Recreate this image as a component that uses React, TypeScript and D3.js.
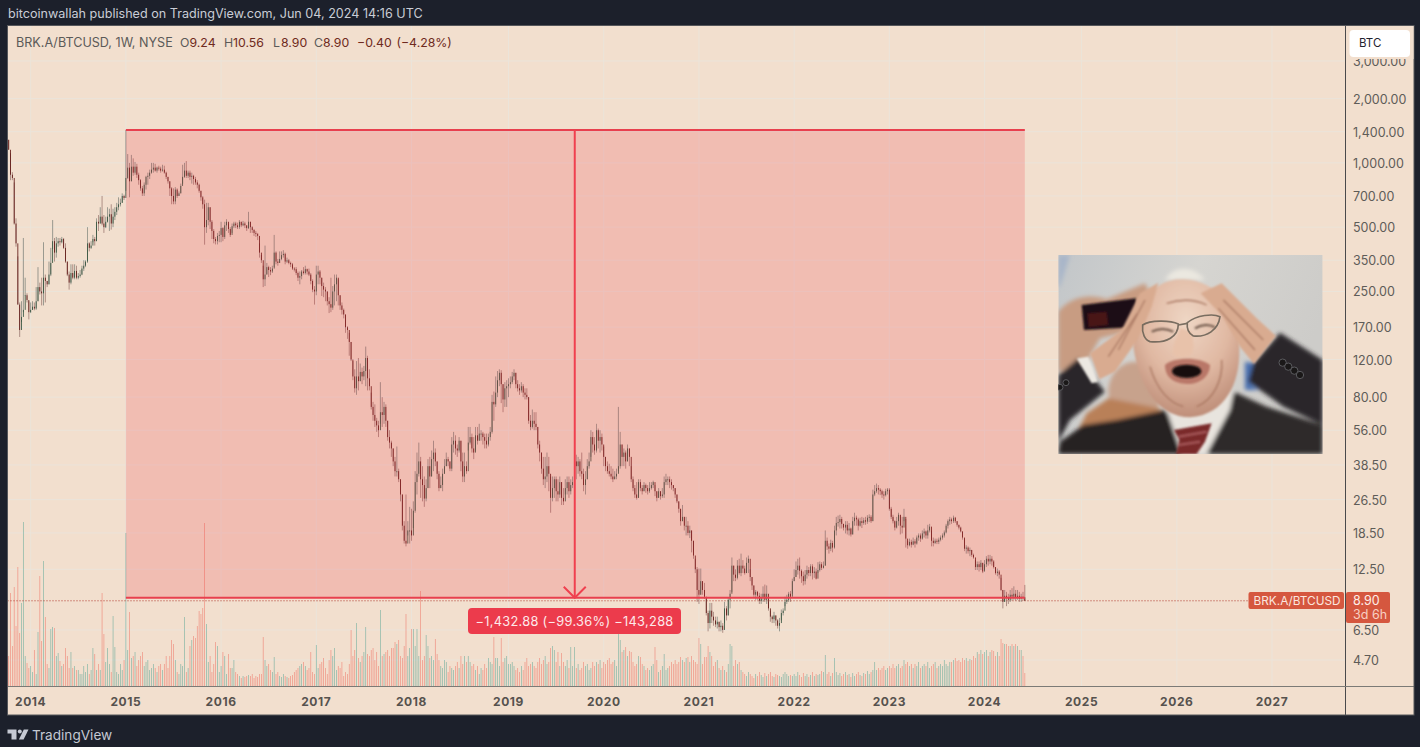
import * as React from 'react';
import { useEffect, useRef } from 'react';
import * as d3 from 'd3';

// weekly bars: [close, high, low, volume]. open = previous close
type Bar = [number, number, number, number];

const bars2013: Bar[] = [
  [1152,1283,1152,30],[880,1110,830,93],[850,905,830,40],[520,810,514,99],[420,550,405,60],[217,365,217,119],
  [165,222,153,53],[190,225,180,83],[205,445,200,164],[240,290,238,30],[228,245,222,23],[200,225,185,18],
];
const bars2014: Bar[] = [
  [205,222,198,20],[212,225,205,14],[208,222,204,36],[225,262,205,12],[262,325,225,54],[250,275,242,110],[245,290,215,45],[290,425,215,125],
  [280,300,222,69],[270,280,262,22],[300,345,270,18],[340,400,295,57],[430,540,395,59],[380,445,345,58],[420,450,360,30],[430,445,405,33],
  [425,445,410,25],[440,450,420,20],[400,445,395,22],[345,420,340,38],[300,345,295,30],[275,310,255,18],[305,335,270,34],[290,335,285,18],
  [312,335,285,20],[290,330,285,16],[295,305,285,16],[300,315,290,12],[320,330,298,12],[330,350,312,20],[345,350,325,14],[420,500,340,22],
  [400,425,385,12],[410,430,395,16],[440,460,425,38],[430,450,410,32],[530,550,430,16],[520,570,480,22],[560,620,520,16],[520,700,510,93],
  [500,570,470,52],[530,560,495,24],[560,620,525,38],[575,610,480,22],[520,640,487,14],[560,610,500,70],[590,620,540,39],[620,650,570,14],
  [640,690,600,12],[650,680,625,22],[700,720,650,16],[685,710,670,26],
];
const bars2015: Bar[] = [
  [850,1426,740,153],[950,1100,840,36],[820,1000,690,74],[960,1090,820,28],[900,1050,870,30],[960,1010,880,34],[880,990,850,20],[830,900,790,26],
  [760,840,740,30],[720,780,700,34],[790,810,700,20],[860,870,750,24],[870,900,790,26],[900,930,840,16],[930,1000,890,18],[950,1000,900,22],
  [920,990,910,18],[950,960,900,14],[940,970,920,20],[920,960,900,22],[930,980,910,16],[900,970,890,22],[860,910,840,30],[820,860,800,18],
  [760,820,700,30],[700,770,640,46],[660,760,640,42],[750,770,640,26],[700,760,685,14],[720,735,700,12],[780,800,720,22],[860,980,800,20],
  [920,1000,850,69],[870,1020,850,14],[900,920,850,18],[860,920,830,40],[870,900,800,46],[840,880,790,50],[810,860,790,48],[790,830,760,60],
  [740,800,725,75],[690,740,665,72],[640,700,610,78],[500,673,414,163],[540,650,470,62],[620,650,510,24],[530,620,490,30],[480,540,440,14],
  [440,490,420,22],[430,450,415,44],[455,470,415,40],[460,480,425,14],
];
const bars2016: Bar[] = [
  [495,530,425,20],[450,500,430,34],[510,530,440,30],[530,545,480,12],[490,520,470,32],[460,500,450,18],[505,520,470,18],[520,530,495,26],
  [510,530,495,14],[500,525,490,12],[530,540,490,10],[510,530,500,8],[520,535,505,10],[510,530,495,9],[495,510,480,10],[530,590,490,11],
  [500,530,470,10],[485,505,470,12],[470,490,455,8],[465,480,450,10],[455,470,435,9],[380,420,360,12],[350,370,340,12],[285,330,262,49],
  [300,410,265,26],[325,340,300,20],[315,330,292,22],[310,325,298,16],[320,330,305,14],[380,460,325,29],[345,385,335,12],[340,355,330,14],
  [355,385,340,10],[370,385,350,9],[375,390,360,12],[345,380,335,10],[350,360,340,9],[340,355,335,8],[335,345,325,10],[320,340,315,11],
  [318,325,310,14],[305,325,298,16],[290,310,280,18],[295,310,270,20],[310,315,285,22],[305,325,300,24],[318,330,300,20],[310,320,300,16],
  [300,320,295,18],[280,305,270,34],[255,285,248,14],[250,265,217,12],
];
const bars2017: Bar[] = [
  [300,330,240,41],[310,330,270,18],[290,315,270,22],[265,290,238,24],[255,275,235,28],[250,262,225,18],[225,250,215,12],[218,235,198,26],
  [210,290,200,36],[250,265,205,30],[270,300,215,38],[290,300,225,16],[240,285,215,20],[215,240,205,18],[205,222,195,24],[195,208,187,10],
  [170,195,160,14],[165,172,150,12],[145,160,125,22],[120,145,118,56],[100,118,96,30],[88,108,84,36],[100,118,82,63],[95,122,86,28],
  [105,115,95,24],[100,110,92,30],[106,112,96,34],[122,138,90,59],[98,125,86,32],[90,108,86,30],[72,84,70,36],[66,76,62,38],
  [62,74,58,26],[59,64,55,34],[56,62,52,20],[68,94,60,76],[66,80,58,30],[72,76,60,32],[62,74,58,34],[52,62,50,36],
  [49,56,46,30],[46,50,42,38],[40,46,38,38],[36,42,34,44],[36,47,34,42],[33,37,32,46],[28,33,26,30],[20,28,19,28],
  [17,21,16.5,40],[16.5,28,16,72],[19,21,18,30],[19,24.5,16.5,38],
];
const bars2018: Bar[] = [
  [18,24,17,57],[23.5,26,19.5,57],[32,36,23,40],[35,44,28,57],[40,49,34,30],[33,42,27,95],[31,38,26,26],[26.8,34,24.5,30],
  [30,33,26,51],[38,41,30,40],[34,42,30,28],[41,45,34,30],[44,50,36,26],[40,46,38,47],[35,40,33,32],[30,36,29,26],
  [31,34,30,20],[35,37,29,18],[38,41,35,26],[41,44,38,24],[40,42,38,14],[37,40,36,20],[48,52,36,18],[50,55,44,16],
  [46,53,43,20],[45,48,42,24],[50,52,44,18],[40,50,36,30],[34,44,32,22],[38,44,32,30],[36,40,35,24],[49,58,45,30],
  [52,58,48,24],[46,54,44,20],[44,52,41,22],[53,58,45,16],[50,58,48,20],[54,60,50,12],[54,56,50,18],[52,55,48,16],
  [50,54,46,22],[48,54,46,18],[52,54,47,28],[55,58,50,24],[76,82,54,22],[74,85,62,49],[84,100,72,28],[96,106,80,28],
  [104,108,90,20],[92,107,75,48],[78,92,68,24],[88,94,72,28],[90,96,72,30],
];
const bars2019: Bar[] = [
  [92,98,80,22],[94,100,88,22],[100,105,92,24],[104,108,96,20],[92,104,88,16],[88,96,85,18],[86,92,82,14],[90,94,84,20],
  [84,92,80,16],[82,88,78,24],[80,88,78,28],[62,80,60,20],[58,66,56,22],[62,70,57,24],[60,68,56,20],[58,68,56,18],
  [48,58,46,24],[44,50,40,28],[37,44,35,22],[33,42,31,26],[34,42,30,30],[38,44,32,22],[35,42,29,24],[27,34,23,38],
  [30,34,26,40],[33,34,27,36],[29,34,26,24],[28,33,26,34],[32,34,27,20],[27,32,25,33],[26,30,25,24],[30,33,28,20],
  [32,34,28,26],[29,34,27,18],[31,33,28,39],[32,34,30,20],[40,44,32,39],[38,43,33,18],[40,42,35,22],[36,41,34,16],
  [35,44,33,18],[31,37,29,24],[33,36,28,20],[38,41,33,22],[40,44,37,16],[52,56,42,18],[48,55,44,24],[45,52,43,20],
  [56,60,44,24],[50,57,46,22],[52,56,44,26],[48,54,45,18],
];
const bars2020: Bar[] = [
  [42,47,38,24],[38,42,36,22],[36,40,35,26],[35,39,34,28],[34,38,33,22],[33,37,32,24],[34,36,33,26],[35,37,33,20],
  [38,72,36,73],[48,55,37,46],[42,48,38,34],[44,46,38,36],[40,45,37,39],[46,48,40,30],[42,46,38,35],[33,38,32,34],
  [30,34,29,24],[28,31,27,20],[27,32,26.5,22],[32,33,27,30],[30,33,29,29],[29,31,28,22],[31,32,29,20],[30,31.5,28.5,16],
  [29,31,28,18],[30,32,28.5,16],[31,32,29.5,20],[32,32.5,30,22],[29,31,27.5,39],[27,29,26,26],[29,30,27,14],[27.5,29,26.5,16],
  [28,30,27,20],[32,34,27,32],[33,35,31,16],[33,34,31,18],[32,34,30,20],[31,33,29.5,24],[30,31,29,22],[28,30,27,26],
  [26,28,25.5,22],[24,26,23,24],[21,24,20,29],[22,25,21,26],[20,22,19,24],[20,22,18,28],[18.5,21,18,29],[19,20,17.5,24],
  [17,19,15,30],[14.5,17,14,26],[12.5,14,12,24],[10,12.8,8.8,22],
];
const bars2021: Bar[] = [
  [9.5,12.6,8.6,48],[11,12.6,9.5,42],[10,11,9.5,22],[9.3,10.8,9.1,29],[7.8,9.2,7.6,29],[7,8,6.4,40],[8,8.7,6.6,34],[7.5,8.7,7,30],
  [7.2,7.9,6.8,20],[6.9,7.5,6.7,24],[7.1,7.5,6.6,26],[6.7,7.1,6.4,18],[6.8,7.2,6.4,16],[6.5,7,6.3,20],[8.2,8.8,7,16],[7.6,8.4,7.2,14],
  [9,9.2,7.6,22],[9.6,10,8.2,42],[13,14.2,9.8,40],[11.8,13,11,20],[11.4,12.5,11,26],[13,13.8,11.2,22],[12,14,11.8,24],[13,14.8,11.6,16],
  [12.6,13.8,12,14],[12,13,11.8,12],[13.4,14.2,12,10],[14,14.5,12,14],[11.5,12.5,11,12],[10.5,11.5,10,10],[9.5,10.5,9.3,8],[9.8,10,9,12],
  [9.4,9.9,9,10],[8.9,9.7,8.6,14],[9.2,9.6,8.6,11],[9.6,10.4,8.8,9],[9,10.6,8.8,13],[9.6,10.5,8.6,10],[8.2,8.8,8,12],[7.5,8,7.1,14],
  [7.3,7.6,7,10],[7.6,7.9,7,9],[7.2,7.6,6.8,12],[6.8,7.3,6.6,11],[7,7.4,6.4,10],[7.8,8.1,7.2,9],[8,8.2,7.6,12],[8.8,9.3,8.4,14],
  [9,9.5,8.6,12],[9.6,9.8,8.8,10],[9.3,9.9,8.8,11],[11,11.3,9.6,10],
];
const bars2022: Bar[] = [
  [11.5,12.5,11,12],[12.4,13.6,11.5,10],[13,14,11.8,14],[12.3,14.2,11.3,11],[11.6,12.5,10.8,9],[11,12.2,10.5,13],[11.8,12.4,10.6,10],[12.4,13,11.3,12],
  [12,12.8,11.6,9],[12.9,13.2,11.6,11],[12,13.2,11.2,14],[12.2,12.8,11.4,10],[11.3,12.6,11.2,12],[12.4,13.5,12,11],[13.2,13.6,12.2,12],[12.7,13.5,12.4,15],
  [13,13.6,12.6,14],[17,19,13,31],[16,17.6,15.4,12],[15.6,16.5,14.8,14],[16.6,17.2,15.2,10],[15.8,17,15,13],[19,20,15.6,28],[20.6,22,18,14],
  [20.8,22.3,19.8,11],[21.5,22.5,19.4,13],[20.4,22,19.4,10],[19.6,20.4,19,12],[20.2,21,18.4,14],[19,21,18.2,11],[19.4,20.6,18,12],[18.2,19.6,17.8,9],
  [21,22,18.2,13],[21.8,23,20,10],[21.4,22.3,20,12],[20,21.8,19,14],[21,21.8,19.8,11],[20.6,22,19.5,10],[21.2,21.8,20.2,13],[20.9,22,20.2,12],
  [21.8,22.4,20.4,15],[22,22.6,20.8,12],[21,22.4,20.6,14],[28,29.5,21,16],[29,31,27.5,24],[30,31.5,28.5,16],[29.5,31,28,18],[29,30,27.8,16],
  [28,29.5,27,18],[27.8,29,26.5,20],[29,29.8,27.4,16],[29.5,30,28,18],
];
const bars2023: Bar[] = [
  [24,30,23.5,20],[22,24.5,21.5,18],[21,22.5,20.5,22],[19.6,21.2,19,18],[21,22,19.4,20],[22.5,23,20,22],[20,22.4,18.2,18],[19.6,22,18.4,20],
  [22,24,21,26],[17.4,21.5,15.8,22],[16.2,17,15.6,24],[16.8,17.4,16,20],[16.3,17.2,15.8,22],[16.9,17.6,16.2,18],[16.5,17.3,15.8,22],[17.6,18,16.3,20],
  [18,18.4,17,24],[17.4,18.4,16.8,18],[18.4,19,17.2,20],[18.8,19.4,17.6,22],[18,19,17.4,20],[19,20.2,17.4,24],[19.8,20.4,18.6,18],[17,19,16,20],
  [16.6,17.6,16,22],[17,17.4,16.4,24],[16.8,17.4,16.4,18],[17.2,17.6,16.4,20],[17.6,18,16.9,22],[18,18.4,17.2,20],[18.6,19,17.6,26],[20,20.4,18.4,22],
  [21,21.4,19.4,20],[21.4,22,20.2,24],[21,21.8,20.4,24],[21.8,22.3,20.6,26],[21,22,20.6,28],[20.2,21,19.8,25],[19.6,20.2,19.2,26],[18.8,19.8,18.6,24],
  [17.6,18.8,17.2,28],[15.6,17.4,15.2,26],[15.8,16.2,14.8,28],[15.2,16,14.8,25],[15.4,15.8,14.4,27],[14.6,15.4,14.3,26],[14.2,14.8,14,30],[12.8,13.8,12.4,28],
  [13.2,13.6,12.4,34],[12.8,13.6,12.2,32],[13.4,13.8,12.4,36],[12.2,13.4,12,32],
];
const bars2024: Bar[] = [
  [13.2,13.8,12.4,34],[14,14.4,12.8,36],[13.6,14.6,13,30],[14,14.6,13.2,34],[13.6,14.4,13,36],[12.8,13.8,12.6,35],[12,12.8,11.8,30],[12.2,12.6,11.6,34],
  [11.8,12.4,11.3,30],[10,11.4,9.9,47],[8.8,10,8.2,43],[9.4,10,8.8,42],[9.2,9.8,8.4,42],[9,9.6,8.6,40],[9.5,10,8.8,40],[9.3,10.2,8.9,42],
  [9.6,10.4,9,40],[9.2,10,8.9,42],[9.4,10,9,40],[9.1,9.8,8.8,36],[9.3,9.6,8.8,36],[9.24,9.8,8.9,30],[8.9,10.56,8.9,13],
];
const bars: Bar[] = [...bars2013, ...bars2014, ...bars2015, ...bars2016, ...bars2017, ...bars2018, ...bars2019,
  ...bars2020, ...bars2021, ...bars2022, ...bars2023, ...bars2024];

const priceTicks = [3000, 2000, 1400, 1000, 700, 500, 350, 250, 170, 120, 80, 56, 38.5, 26.5, 18.5, 12.5, 6.5, 4.7];
const years = [2014, 2015, 2016, 2017, 2018, 2019, 2020, 2021, 2022, 2023, 2024, 2025, 2026, 2027];
const lastPrice = 8.9;
const measureFrom = 1426; // top of the drawn range
const measureTo = 9.2;

const W = 1420, H = 747;
const plot = { left: 7.5, right: 1345.5, top: 25.5, bottom: 686.5, outerRight: 1414, outerBottom: 715 };
const FONT = 'Inter, "Noto Sans", sans-serif';

const firstWeek = Date.UTC(2013, 9, 14);
const weekMs = 7 * 24 * 3600 * 1000;
const x = d3.scaleUtc().domain([firstWeek, Date.UTC(2027, 0, 4)]).range([8.7, 1272]);
const barX = (i: number) => x(firstWeek + i * weekMs);
const y = d3.scaleLog().domain([3000, 4.7]).range([61, 660]);
const vol = d3.scaleLinear().domain([0, 100]).range([686, 586]);

const legendParts: [number, string, string][] = [
  [16, 'BRK.A/BTCUSD, 1W, NYSE', '#5b5a58'],
  [180, 'O', '#5b5a58'], [189.5, '9.24', '#6f2a20'],
  [224, 'H', '#5b5a58'], [233, '10.56', '#6f2a20'],
  [273, 'L', '#5b5a58'], [281, '8.90', '#6f2a20'],
  [314, 'C', '#5b5a58'], [323, '8.90', '#6f2a20'],
  [357, '−0.40', '#6f2a20'], [396.5, '(−4.28%)', '#6f2a20'],
];

function App() {
  const svgRef = useRef<SVGSVGElement | null>(null);

  useEffect(() => {
    if (!svgRef.current) return;
    const svg = d3.select(svgRef.current);
    const g = svg.select<SVGGElement>('g.chart');
    g.selectAll('*').remove();

    // grid
    priceTicks.forEach(t => {
      g.append('line').attr('x1', plot.left).attr('x2', plot.right).attr('y1', y(t)).attr('y2', y(t))
        .attr('stroke', '#ebe4da').attr('stroke-width', 1);
    });
    years.forEach(yr => {
      const px = x(d3.utcMonday.ceil(new Date(Date.UTC(yr, 0, 1))));
      g.append('line').attr('x1', px).attr('x2', px).attr('y1', plot.top).attr('y2', plot.bottom)
        .attr('stroke', '#ebe4da').attr('stroke-width', 1);
    });

    // volume
    bars.forEach((b, i) => {
      const up = i > 0 ? b[0] >= bars[i - 1][0] : false;
      g.append('rect')
        .attr('x', barX(i) - 0.35).attr('width', 0.7)
        .attr('y', vol(b[3])).attr('height', 686 - vol(b[3]))
        .attr('fill', up ? '#3f9b8c' : '#ef5e50')
        .attr('opacity', 0.6);
    });

    // last price dotted line
    g.append('line').attr('x1', plot.left).attr('x2', 1248).attr('y1', y(lastPrice)).attr('y2', y(lastPrice))
      .attr('stroke', '#b03a2e').attr('stroke-width', 1).attr('stroke-dasharray', '1 2');

    // candles
    bars.forEach((b, i) => {
      const open = i > 0 ? bars[i - 1][0] : b[1];
      const up = b[0] >= open;
      const cx = barX(i);
      g.append('line').attr('x1', cx).attr('x2', cx)
        .attr('y1', y(Math.max(b[1], b[0]))).attr('y2', y(Math.min(b[2], b[0])))
        .attr('stroke', up ? '#66706a' : '#86605a').attr('stroke-width', 0.8).attr('opacity', 0.8);
      g.append('rect').attr('x', cx - 0.4).attr('width', 0.8)
        .attr('y', y(Math.max(open, b[0]))).attr('height', Math.max(1, Math.abs(y(open) - y(b[0]))))
        .attr('fill', up ? '#2c4d38' : '#5a0f0c');
    });

    // measure tool
    const mx0 = barX(64), mx1 = barX(555), top = y(measureFrom), bottom = y(measureTo);
    const mid = (mx0 + mx1) / 2 - 0.6;
    g.append('rect').attr('x', mx0).attr('y', top).attr('width', mx1 - mx0).attr('height', bottom - top)
      .attr('fill', '#f23645').attr('opacity', 0.2);
    [top, bottom].forEach(v => {
      g.append('line').attr('x1', mx0).attr('x2', mx1).attr('y1', v).attr('y2', v)
        .attr('stroke', '#e8404e').attr('stroke-width', 2);
    });
    g.append('line').attr('x1', mid).attr('x2', mid).attr('y1', top).attr('y2', bottom)
      .attr('stroke', '#f0404f').attr('stroke-width', 2);
    g.append('path').attr('d', `M${mid - 11},${bottom - 11}L${mid},${bottom}L${mid + 11},${bottom - 11}`)
      .attr('fill', 'none').attr('stroke', '#f0404f').attr('stroke-width', 2);
  }, []);

  const body = { fontFamily: FONT, fontSize: 12.5 };
  return (
    <svg ref={svgRef} width={W} height={H} viewBox={`0 0 ${W} ${H}`}
      style={{ position: 'absolute', left: 0, top: 0, display: 'block', background: '#1c202b' }}>
      <defs>
        <filter id="soft" x="-5%" y="-5%" width="110%" height="110%"><feGaussianBlur stdDeviation="6" /></filter>
        <filter id="soft2" x="-10%" y="-10%" width="120%" height="120%"><feGaussianBlur stdDeviation="2.5" /></filter>
        <clipPath id="photoClip"><rect x={25} y={15} width={793} height={597} /></clipPath>
        <linearGradient id="wall" x1="0" y1="0" x2="1" y2="0.3">
          <stop offset="0" stopColor="#c2c6c9" /><stop offset="0.5" stopColor="#d6d5d1" /><stop offset="1" stopColor="#cdccc9" />
        </linearGradient>
        <radialGradient id="skin" cx="0.5" cy="0.3" r="0.75">
          <stop offset="0" stopColor="#eed6c4" /><stop offset="0.55" stopColor="#e0b8a2" /><stop offset="1" stopColor="#b98772" />
        </radialGradient>
      </defs>

      <text x={8} y={18} fill="#c9cdd6" style={{ ...body, fontSize: 12.6 }}>bitcoinwallah published on TradingView.com, Jun 04, 2024 14:16 UTC</text>

      <rect x={plot.left} y={plot.top} width={plot.outerRight - plot.left} height={plot.outerBottom - plot.top} fill="#f2dfce" />
      <g className="chart" />

      {/* photo, built from shapes in a 3x local frame */}
      <g transform="translate(1050,250) scale(0.3333)">
        <g clipPath="url(#photoClip)">
          <rect x={25} y={15} width={793} height={597} fill="url(#wall)" />
          <g filter="url(#soft)">
            <path d="M25,15L60,15L30,110L25,110Z" fill="#a9b6c9" />
            <path d="M585,335L610,340L600,400L625,420L585,420Z" fill="#4a6fb0" />
            <ellipse cx={255} cy={425} rx={80} ry={90} fill="#c7a28c" />
            <path d="M60,585L110,490L175,445L330,475L345,520L200,612L60,612Z" fill="#b98059" />
            <path d="M25,185C60,140 120,130 170,148L285,100L300,130L255,240L150,265L110,335L25,365Z" fill="#c89c82" />
            <path d="M25,375L85,325L165,425L60,510L25,575Z" fill="#2a282b" />
            <path d="M25,612L30,575L100,525L200,510L345,480L385,530L445,612Z" fill="#262324" />
            <path d="M450,612L552,425L650,470L818,525L818,612Z" fill="#2e2a29" />
            <path d="M595,395L610,340L690,248L818,330L818,525L700,470Z" fill="#2a282b" />
            <path d="M350,480L552,420L540,480L470,612L395,612Z" fill="#e8e4de" />
            <path d="M345,90C370,45 430,45 465,90Z" fill="#ebe8e0" />
          </g>
          <path d="M95,165L258,145L262,205L245,232L102,240Z" fill="#1e1116" filter="url(#soft2)" />
          <path d="M112,190L170,185L175,225L116,232Z" fill="#4a1218" filter="url(#soft2)" />
          <path d="M80,325L115,320L145,395L125,400Z" fill="#ece8e2" filter="url(#soft2)" />
          <path d="M250,290C245,180 300,85 400,88C505,90 575,190 568,300C570,400 525,495 420,502C330,500 270,420 250,290Z" fill="url(#skin)" filter="url(#soft2)" />
          <g filter="url(#soft2)">
            <path d="M120,310L215,240L270,130L325,98L305,170L262,270L195,365L148,388Z" fill="#d9ab90" />
            <path d="M452,130L515,100L620,205L678,258L612,342L570,290L515,195Z" fill="#d9ab90" />
            <g fill="none" stroke="#a87660" strokeWidth={4}>
              <path d="M205,300L285,150" /><path d="M175,320L262,190" />
              <path d="M520,150L640,270" /><path d="M505,175L615,300" />
              <path d="M300,350C320,420 360,460 400,470" /><path d="M515,330C520,390 490,450 440,470" />
              <path d="M350,160C400,145 440,150 470,165" />
            </g>
            <path d="M375,270C360,315 370,320 395,322C425,322 440,310 425,245L392,235Z" fill="#e8c2aa" />
            <path d="M345,345C370,320 450,320 480,345C480,385 440,405 410,402C375,400 345,385 345,345Z" fill="#b97768" />
            <path d="M305,245C325,235 350,235 370,245" stroke="#6b5346" strokeWidth={6} fill="none" />
            <path d="M435,235C455,222 480,222 495,232" stroke="#6b5346" strokeWidth={6} fill="none" />
          </g>
          <ellipse cx={410} cy={364} rx={44} ry={20} fill="#18100e" filter="url(#soft2)" />
          <g fill="none" stroke="#6d6458" strokeWidth={5} opacity={0.9}>
            <path d="M278,225C300,210 360,210 385,222C385,260 350,280 300,275C285,270 275,250 278,225Z" />
            <path d="M412,218C440,195 490,190 510,200C505,240 470,262 430,258C415,250 410,235 412,218Z" />
            <path d="M385,225L412,220" />
          </g>
          <g filter="url(#soft2)">
            <path d="M372,540L485,520L465,575L440,612L378,612L388,570Z" fill="#7a2a2c" />
            <path d="M385,560L470,545M385,585L450,575" stroke="#a8595a" strokeWidth={6} fill="none" />
          </g>
          <g fill="#1a1818" stroke="#5a5a5e" strokeWidth={3}>
            <circle cx={698} cy={338} r={11} /><circle cx={715} cy={350} r={11} /><circle cx={733} cy={362} r={11} /><circle cx={750} cy={375} r={11} />
            <circle cx={30} cy={412} r={9} /><circle cx={48} cy={398} r={9} />
          </g>
        </g>
      </g>

      {/* frame */}
      <line x1={plot.right} x2={plot.right} y1={plot.top} y2={plot.outerBottom} stroke="#4a4a4c" strokeWidth={1} />
      <line x1={plot.left} x2={plot.outerRight} y1={plot.bottom} y2={plot.bottom} stroke="#7c7a76" strokeWidth={1.2} />
      <rect x={plot.left} y={plot.top} width={plot.outerRight - plot.left} height={plot.outerBottom - plot.top} fill="none" stroke="#55565a" strokeWidth={1} />

      {/* legend */}
      {legendParts.map(([px, s, c], i) => (
        <text key={i} x={px} y={47} fill={c} style={{ ...body, fontSize: i === 0 ? 12.6 : 12.3 }}>{s}</text>
      ))}

      {/* price axis */}
      {priceTicks.map(t => (
        <text key={t} x={1353} y={y(t) + 5} fill="#5e5c58" style={{ ...body, fontSize: 12.5 }}>{d3.format(',.2f')(t)}</text>
      ))}
      <rect x={1346.5} y={26} width={67} height={33} fill="#f2dfce" />
      <rect x={1349.5} y={30} width={60.5} height={27} rx={4} fill="#ffffff" />
      <text x={1359} y={47} fill="#1f2430" style={{ ...body, fontSize: 11.5 }}>BTC</text>

      {/* time axis */}
      {years.map(yr => (
        <text key={yr} x={x(d3.utcMonday.ceil(new Date(Date.UTC(yr, 0, 1))))} y={705.5} textAnchor="middle" fill="#56524e"
          style={{ ...body, fontSize: 12, fontWeight: 700, letterSpacing: 0.6 }}>{yr}</text>
      ))}

      {/* last price tags */}
      <rect x={1248.5} y={592} width={95.5} height={17} rx={2} fill="#d5573f" />
      <text x={1253.5} y={604.5} fill="#fbe6df" style={{ ...body, fontSize: 11.8 }}>BRK.A/BTCUSD</text>
      <rect x={1346} y={592} width={44} height={31} rx={2} fill="#d5573f" />
      <text x={1353} y={605} fill="#fdeee8" style={{ ...body, fontSize: 12.5 }}>8.90</text>
      <text x={1353} y={619} fill="#f8cfc3" style={{ ...body, fontSize: 12.5 }}>3d 6h</text>

      {/* measure label */}
      <rect x={468} y={608} width={213} height={26} rx={4} fill="#ec3b4c" />
      <text x={574.5} y={625.5} textAnchor="middle" fill="#fde9ea" style={{ ...body, fontSize: 12.8, letterSpacing: 0.3 }}>−1,432.88 (−99.36%) −143,288</text>

      {/* footer logo */}
      <g fill="#c5c9d3">
        <path d="M7.5,729.5H16.5V739.5H11.5V733.5H7.5Z" />
        <circle cx={19.8} cy={731.5} r={2} />
        <path d="M23.8,729.5H28.5L23.6,739.5H18.9Z" />
      </g>
      <text x={32} y={740} fill="#c5c9d3" style={{ fontFamily: FONT, fontSize: 13.6 }}>TradingView</text>
    </svg>
  );
}

export default App;
